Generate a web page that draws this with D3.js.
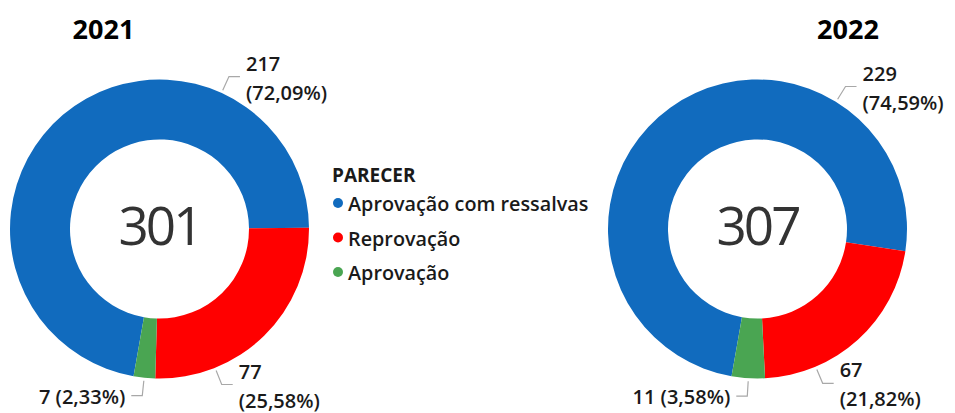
<!DOCTYPE html>
<html>
<head>
<meta charset="utf-8">
<script src="https://cdn.jsdelivr.net/npm/d3@7"></script>
<style>
  body { margin: 0; background: #fff; }
  text { font-family: "Open Sans", sans-serif; }
</style>
</head>
<body>
<svg id="chart"></svg>
<script>
const svg_width = 955;
const svg_height = 413;

// data
const years = ['2021', '2022'];
const categories = ['Aprovação com ressalvas', 'Reprovação', 'Aprovação'];
const values2021 = [217, 77, 7];
const values2022 = [229, 67, 11];
const colors = ['#116BBE', '#FF0000', '#4AA552'];

// layout of each donut (label angles in degrees, clockwise from 12 o'clock)
const layouts = [
	{cx: 159.5, cy: 229, titleX: 103.5, labelAngles: [24.5, 158.2, 185.9]},
	{cx: 757.5, cy: 229, titleX: 848, labelAngles: [31.7, 157.1, 183.5]}
];
const outerR = 149.5;
const innerR = 89.5;
const rad = Math.PI / 180;

const svg = d3.select('#chart')
	.attr('width', svg_width)
	.attr('height', svg_height);

const pie = d3.pie().sort(null)
	.startAngle(-170 * rad)
	.endAngle(190 * rad);
const arc = d3.arc().innerRadius(innerR).outerRadius(outerR);

const pctFmt = d3.format('.2f');

function drawDonut(values, year, lay){
	const total = d3.sum(values);
	const g = svg.append('g').attr('transform', `translate(${lay.cx}, ${lay.cy})`);

	g.selectAll('path')
		.data(pie(values))
		.join('path')
		.attr('d', arc)
		.attr('fill', (d, i) => colors[i]);

	// total in the middle
	g.append('text')
		.attr('text-anchor', 'middle')
		.attr('y', 16)
		.attr('font-family', 'Roboto')
		.attr('font-size', '53px')
		.attr('letter-spacing', '-3px')
		.attr('fill', '#333')
		.text(total);

	// year title
	svg.append('text')
		.attr('x', lay.titleX)
		.attr('y', 39)
		.attr('text-anchor', 'middle')
		.attr('font-size', '27px')
		.attr('font-weight', 700)
		.attr('fill', '#000')
		.text(year);

	// data labels with leader lines
	values.forEach((v, i) => {
		const a = lay.labelAngles[i] * rad;
		const side = Math.sin(a) >= 0 ? 1 : -1;
		const p0 = [Math.sin(a) * (outerR + 3), -Math.cos(a) * (outerR + 3)];
		const p1 = [Math.sin(a) * (outerR + 18), -Math.cos(a) * (outerR + 18)];
		const p2 = [p1[0] + side * 11, p1[1]];
		g.append('polyline')
			.attr('points', [p0, p1, p2].map(p => p.join(',')).join(' '))
			.attr('fill', 'none')
			.attr('stroke', '#a8a8a8')
			.attr('stroke-width', 1.2);

		const pct = '(' + pctFmt(v / total * 100).replace('.', ',') + '%)';
		const t = g.append('text')
			.attr('x', p2[0] + side * 6)
			.attr('text-anchor', side > 0 ? 'start' : 'end')
			.attr('font-size', '20px')
			.attr('font-weight', 600)
			.attr('fill', '#1a1a1a');
		if (i < 2){
			t.append('tspan').attr('x', p2[0] + side * 6).attr('y', p2[1] - 6).text(v);
			t.append('tspan').attr('x', p2[0] + side * 6).attr('y', p2[1] + 23).text(pct);
		} else {
			t.attr('y', p2[1] + 8).text(v + ' ' + pct);
		}
	});
}

drawDonut(values2021, years[0], layouts[0]);
drawDonut(values2022, years[1], layouts[1]);

// legend
const legend = svg.append('g');
legend.append('text')
	.attr('x', 332)
	.attr('y', 182)
	.attr('font-size', '19px')
	.attr('font-weight', 700)
	.attr('fill', '#1a1a1a')
	.text('PARECER');
categories.forEach((c, i) => {
	const y = 203 + i * 34.5;
	legend.append('circle')
		.attr('cx', 338)
		.attr('cy', y)
		.attr('r', 5)
		.attr('fill', colors[i]);
	legend.append('text')
		.attr('x', 348)
		.attr('y', y + 8)
		.attr('font-size', '19.8px')
		.attr('font-weight', 600)
		.attr('fill', '#1a1a1a')
		.text(c);
});
</script>
</body>
</html>
